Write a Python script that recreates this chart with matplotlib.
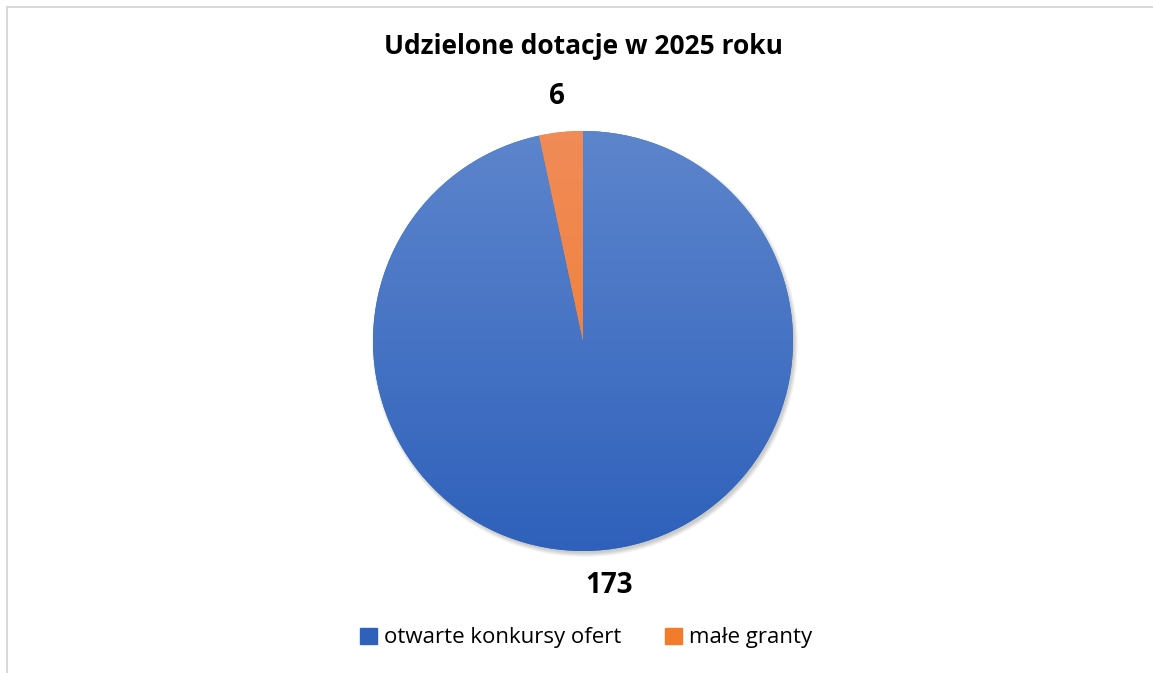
import numpy as np
import matplotlib.pyplot as plt
from matplotlib.patches import Circle, Rectangle
from matplotlib.colors import LinearSegmentedColormap
from matplotlib.lines import Line2D

title = 'Udzielone dotacje w 2025 roku'
categories = ['otwarte konkursy ofert', 'małe granty']
values = [173, 6]

W, H = 1153, 673
cx, cy, R = 583, H - 341, 210

top_cols = ['#5d85cc', '#f08b57']
bot_cols = ['#2f61bb', '#f27b2c']

plt.rcParams['font.family'] = ['Open Sans', 'DejaVu Sans']

fig = plt.figure(figsize=(W / 100, H / 100), dpi=100)
ax = fig.add_axes([0, 0, 1, 1])
ax.set_xlim(0, W)
ax.set_ylim(0, H)
ax.axis('off')

# frame lines (top and left only)
ax.add_line(Line2D([6.5, W], [H - 6.5, H - 6.5], color='#d9d9d9', lw=1.5))
ax.add_line(Line2D([6.5, 6.5], [0, H - 6.5], color='#d9d9d9', lw=1.5))

# soft shadow
for i in range(6):
    ax.add_patch(Circle((cx + 2, cy - 3), R + 3 - i * 0.8, color='black',
                        alpha=0.035, lw=0, zorder=1))

wedges, _ = ax.pie(values, startangle=90, counterclock=False,
                   center=(cx, cy), radius=R, frame=True,
                   wedgeprops=dict(lw=0))
for w in wedges:
    w.set_zorder(2)

grad = np.linspace(0, 1, 256).reshape(-1, 1)
for w, c0, c1 in zip(wedges, top_cols, bot_cols):
    cmap = LinearSegmentedColormap.from_list('g', [c0, c1])
    im = ax.imshow(grad, cmap=cmap, extent=[cx - R, cx + R, cy - R, cy + R],
                   origin='upper', aspect='auto', zorder=3)
    im.set_clip_path(w)

ax.set_xlim(0, W)
ax.set_ylim(0, H)
ax.set_aspect('auto')

# value labels outside the slices
for w, v in zip(wedges, values):
    mid = np.deg2rad((w.theta1 + w.theta2) / 2)
    r = R * 1.17
    ax.text(cx + r * np.cos(mid), cy + r * np.sin(mid), str(v),
            ha='center', va='center', fontsize=20, fontweight='bold',
            color='black', zorder=5)

fig.text(583 / W, 1 - 47 / H, title, ha='center', va='center',
         fontsize=19, fontweight='bold', color='black')

handles = [Rectangle((0, 0), 1, 1, color=c) for c in bot_cols]
fig.legend(handles, categories, loc='center', bbox_to_anchor=(586 / W, 1 - 638 / H),
           ncol=2, frameon=False, fontsize=16, handlelength=0.75, handleheight=0.75,
           handletextpad=0.3, columnspacing=2.0)

fig.savefig('out.png', dpi=100)
